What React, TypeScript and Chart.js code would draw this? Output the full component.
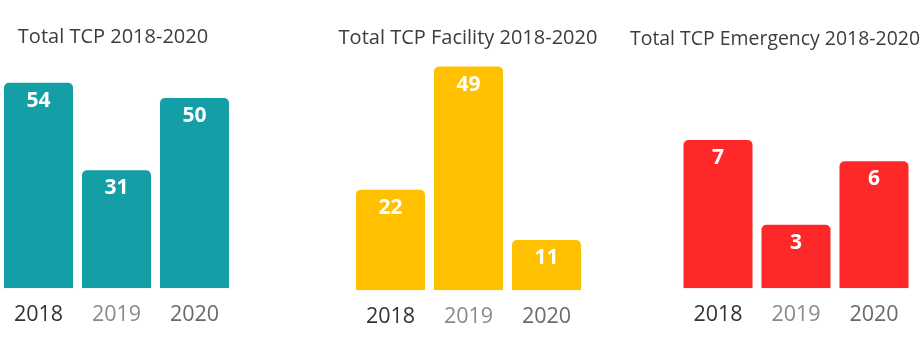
import React, { useEffect, useRef } from "react";
import { Chart, registerables } from "chart.js";

Chart.register(...registerables);

const years = ["2018", "2019", "2020"];
const totalValues = [54, 31, 50];
const facilityValues = [22, 49, 11];
const emergencyValues = [7, 3, 6];
const titles = ["Total TCP 2018-2020", "Total TCP Facility 2018-2020", "Total TCP Emergency 2018-2020"];
const tickColors = ["#333333", "#8a8a8a", "#6a6a6a"];

const FONT = "'Open Sans', 'Noto Sans', sans-serif";

const valueLabels = {
  id: "valueLabels",
  afterDatasetsDraw(chart: any) {
    const ctx = chart.ctx;
    const meta = chart.getDatasetMeta(0);
    const data = chart.data.datasets[0].data;
    ctx.save();
    ctx.fillStyle = "#ffffff";
    ctx.font = `bold 21px ${FONT}`;
    ctx.textAlign = "center";
    ctx.textBaseline = "middle";
    meta.data.forEach((bar: any, i: number) => {
      ctx.fillText(String(data[i]), bar.x, bar.y + 18);
    });
    ctx.restore();
  },
};

type Cfg = {
  values: number[];
  title: string;
  color: string;
  max: number;
  left: number;
  width: number;
  padLeft: number;
  padRight: number;
  titleTop: number;
  titleBottom: number;
  bottom: number;
  titleSize: number;
};

function BarPanel(props: Cfg) {
  const ref = useRef<HTMLCanvasElement | null>(null);
  useEffect(() => {
    if (!ref.current) return;
    const chart = new Chart(ref.current, {
      type: "bar",
      data: {
        labels: years,
        datasets: [
          {
            data: props.values,
            backgroundColor: props.color,
            borderRadius: 5,
            barPercentage: 0.885,
            categoryPercentage: 1,
            yAxisID: "y",
          },
        ],
      },
      plugins: [valueLabels],
      options: {
        responsive: false,
        animation: false,
        events: [],
        layout: { padding: { top: 0, bottom: props.bottom, left: 0, right: 0 } },
        plugins: {
          legend: { display: false },
          tooltip: { enabled: false },
          title: {
            display: true,
            text: props.title,
            color: "#3c3c3c",
            font: { family: FONT, size: props.titleSize, weight: "normal" },
            padding: { top: props.titleTop, bottom: props.titleBottom },
          },
        },
        scales: {
          x: {
            grid: { display: false, drawTicks: false },
            border: { display: false },
            ticks: {
              padding: 14,
              color: (c: any) => tickColors[c.index] || "#666",
              font: { family: FONT, size: 21.5, weight: "normal" },
            },
          },
          y: {
            position: "left",
            min: 0,
            max: props.max,
            grid: { display: false, drawTicks: false },
            border: { display: false },
            ticks: { display: false },
            afterFit: (s: any) => {
              s.width = props.padLeft;
            },
          },
          yr: {
            type: "linear",
            position: "right",
            grid: { display: false, drawTicks: false },
            border: { display: false },
            ticks: { display: false },
            afterFit: (s: any) => {
              s.width = props.padRight;
            },
          },
        },
      } as any,
    });
    return () => chart.destroy();
  }, []);
  return (
    <canvas
      ref={ref}
      width={props.width}
      height={351}
      style={{ position: "absolute", left: props.left, top: 0, width: props.width, height: 351 }}
    />
  );
}

export default function App() {
  return (
    <div style={{ position: "fixed", left: 0, top: 0, width: 920, height: 351, background: "#ffffff", overflow: "hidden" }}>
      <BarPanel
        values={totalValues}
        title={titles[0]}
        color="#149ea5"
        max={60}
        left={-8}
        width={242}
        padLeft={7.5}
        padRight={0.5}
        titleTop={25}
        titleBottom={11}
        bottom={9}
        titleSize={20}
      />
      <BarPanel
        values={facilityValues}
        title={titles[1]}
        color="#ffc000"
        max={50}
        left={330}
        width={276}
        padLeft={21.5}
        padRight={20.5}
        titleTop={26}
        titleBottom={12}
        bottom={7}
        titleSize={20}
      />
      <BarPanel
        values={emergencyValues}
        title={titles[2]}
        color="#ff2828"
        max={11}
        left={630}
        width={290}
        padLeft={49}
        padRight={7}
        titleTop={28}
        titleBottom={4}
        bottom={9}
        titleSize={19.5}
      />
    </div>
  );
}
